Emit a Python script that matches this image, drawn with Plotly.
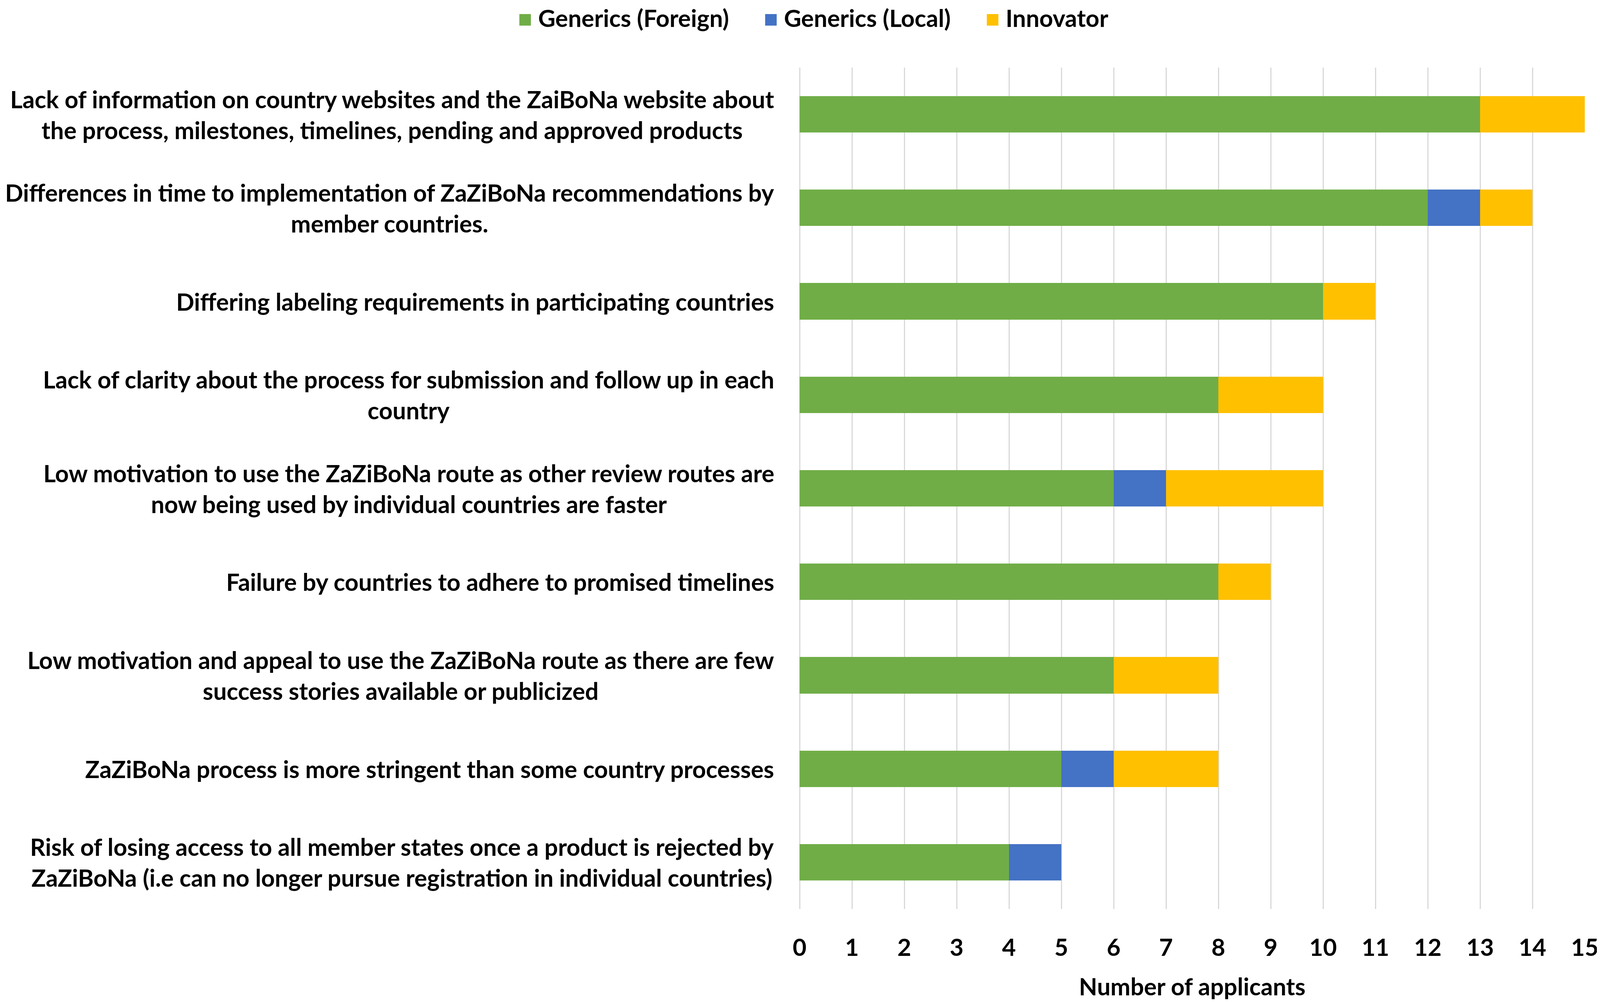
import plotly.graph_objects as go

reasons = [
    "Lack of information on country websites and the ZaiBoNa website about<br>the process, milestones, timelines, pending and approved products",
    "Differences in time to implementation of ZaZiBoNa recommendations by<br>member countries.",
    "Differing labeling requirements in participating countries",
    "Lack of clarity about the process for submission and follow up in each<br>country",
    "Low motivation to use the ZaZiBoNa route as other review routes are<br>now being used by individual countries are faster",
    "Failure by countries to adhere to promised timelines",
    "Low motivation and appeal to use the ZaZiBoNa route as there are few<br>success stories available or publicized",
    "ZaZiBoNa process is more stringent than some country processes",
    "Risk of losing access to all member states once a product is rejected by<br>ZaZiBoNa (i.e can no longer pursue registration in individual countries)",
]
generics_foreign = [13, 12, 10, 8, 6, 8, 6, 5, 4]
generics_local = [0, 1, 0, 0, 1, 0, 0, 1, 1]
innovator = [2, 1, 1, 2, 3, 1, 2, 2, 0]

series = [
    ("Generics (Foreign)", generics_foreign, "#70AD47"),
    ("Generics (Local)", generics_local, "#4472C4"),
    ("Innovator", innovator, "#FFC000"),
]

font_family = "Lato"
font_size = 61
label_font = dict(family=font_family, size=font_size, color="black", weight="bold")

fig = go.Figure()
for name, values, color in series:
    fig.add_trace(go.Bar(
        y=reasons, x=values, name=name, orientation="h",
        marker=dict(color=color, line=dict(width=0)),
        showlegend=False,
    ))

# category labels: centered lines, right-aligned block next to the axis
annotations = []
for r in reasons:
    annotations.append(dict(
        x=0, y=r, xref="paper", yref="y", text=r, showarrow=False,
        xanchor="right", yanchor="middle", align="center", xshift=-63,
        font=label_font,
    ))

# legend drawn as one line of text with coloured squares
gap = "\u00a0" * 6
legend_text = gap.join(
    f"<span style='color:{c}'>\u25a0</span>\u00a0{n}" for n, _, c in series
)
annotations.append(dict(
    x=0.017, y=1.059, xref="paper", yref="paper", text=legend_text, showarrow=False,
    xanchor="center", yanchor="middle", font=label_font,
))

fig.update_layout(
    width=4096, height=2564,
    barmode="stack", bargap=0.61,
    plot_bgcolor="white", paper_bgcolor="white",
    margin=dict(l=2039, r=39, t=165, b=246),
    font=label_font,
    annotations=annotations,
)
fig.update_xaxes(
    range=[0, 15], dtick=1, tick0=0,
    showgrid=True, gridcolor="#D9D9D9", gridwidth=2.5,
    zeroline=True, zerolinecolor="#D9D9D9", zerolinewidth=2.5,
    showline=False, ticks="", ticklabelstandoff=58,
    title=dict(text="Number of applicants", standoff=46, font=label_font),
)
fig.update_yaxes(
    autorange="reversed", showticklabels=False, showgrid=False,
    showline=False, ticks="",
)

fig.write_html("out.html")
